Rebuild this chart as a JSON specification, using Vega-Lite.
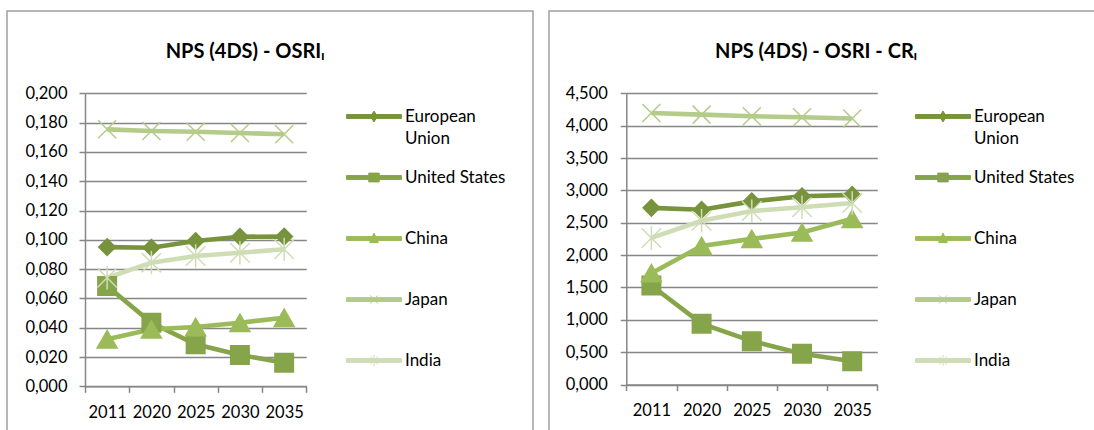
{
  "$schema": "https://vega.github.io/schema/vega-lite/v6.json",
  "padding": {"left": 6, "top": 10, "right": -56, "bottom": -7},
  "background": "white",
  "spacing": 14,
  "config": {
    "font": "Lato",
    "view": {"stroke": "#A0A0A0", "strokeWidth": 1.5},
    "style": {"guide-label": {"lineHeight": 22}},
    "axis": {
      "labelFont": "Lato", "labelFontSize": 16.5, "labelColor": "#000000",
      "domainColor": "#868686", "domainWidth": 1.5,
      "tickColor": "#868686", "tickWidth": 1.5,
      "gridColor": "#868686", "gridWidth": 1.5
    },
    "legend": {
      "orient": "none", "title": null, "padding": 0,
      "clipHeight": 61, "rowPadding": 0, "labelOffset": 3,
      "labelFont": "Lato", "labelFontSize": 17, "labelColor": "#000000", "labelBaseline": "middle",
      "labelLimit": 200, "symbolSize": 3025, "symbolStrokeWidth": 1, "symbolOpacity": 1
    }
  },
  "datasets": {
    "osri": [
      {"year": "2011", "country": "European Union", "value": 0.095},
      {"year": "2020", "country": "European Union", "value": 0.0946},
      {"year": "2025", "country": "European Union", "value": 0.0992},
      {"year": "2030", "country": "European Union", "value": 0.1021},
      {"year": "2035", "country": "European Union", "value": 0.1022},
      {"year": "2011", "country": "United States", "value": 0.0685},
      {"year": "2020", "country": "United States", "value": 0.0434},
      {"year": "2025", "country": "United States", "value": 0.0287},
      {"year": "2030", "country": "United States", "value": 0.0214},
      {"year": "2035", "country": "United States", "value": 0.0161},
      {"year": "2011", "country": "China", "value": 0.0321},
      {"year": "2020", "country": "China", "value": 0.0389},
      {"year": "2025", "country": "China", "value": 0.0405},
      {"year": "2030", "country": "China", "value": 0.0434},
      {"year": "2035", "country": "China", "value": 0.0468},
      {"year": "2011", "country": "Japan", "value": 0.1754},
      {"year": "2020", "country": "Japan", "value": 0.1743},
      {"year": "2025", "country": "Japan", "value": 0.1738},
      {"year": "2030", "country": "Japan", "value": 0.1729},
      {"year": "2035", "country": "Japan", "value": 0.172},
      {"year": "2011", "country": "India", "value": 0.0741},
      {"year": "2020", "country": "India", "value": 0.0844},
      {"year": "2025", "country": "India", "value": 0.0889},
      {"year": "2030", "country": "India", "value": 0.0912},
      {"year": "2035", "country": "India", "value": 0.0935}
    ],
    "osricr": [
      {"year": "2011", "country": "European Union", "value": 2.73},
      {"year": "2020", "country": "European Union", "value": 2.70},
      {"year": "2025", "country": "European Union", "value": 2.83},
      {"year": "2030", "country": "European Union", "value": 2.91},
      {"year": "2035", "country": "European Union", "value": 2.93},
      {"year": "2011", "country": "United States", "value": 1.53},
      {"year": "2020", "country": "United States", "value": 0.94},
      {"year": "2025", "country": "United States", "value": 0.67},
      {"year": "2030", "country": "United States", "value": 0.475},
      {"year": "2035", "country": "United States", "value": 0.36},
      {"year": "2011", "country": "China", "value": 1.72},
      {"year": "2020", "country": "China", "value": 2.14},
      {"year": "2025", "country": "China", "value": 2.25},
      {"year": "2030", "country": "China", "value": 2.35},
      {"year": "2035", "country": "China", "value": 2.56},
      {"year": "2011", "country": "Japan", "value": 4.195},
      {"year": "2020", "country": "Japan", "value": 4.17},
      {"year": "2025", "country": "Japan", "value": 4.145},
      {"year": "2030", "country": "Japan", "value": 4.13},
      {"year": "2035", "country": "Japan", "value": 4.11},
      {"year": "2011", "country": "India", "value": 2.265},
      {"year": "2020", "country": "India", "value": 2.53},
      {"year": "2025", "country": "India", "value": 2.68},
      {"year": "2030", "country": "India", "value": 2.74},
      {"year": "2035", "country": "India", "value": 2.805}
    ]
  },
  "hconcat": [
    {
      "width": 526,
      "height": 425,
      "data": {"name": "osri"},
      "title": {"text": "NPS (4DS) - OSRIᵢ", "anchor": "middle", "frame": "group", "dx": -25, "offset": -67, "baseline": "alphabetic", "font": "Lato", "fontSize": 20, "fontWeight": "bold", "color": "#000000"},
      "encoding": {
        "x": {"field": "year", "type": "ordinal", "bandPosition": 0.5,
          "scale": {"type": "band", "range": [78, 299.3], "paddingInner": 0, "paddingOuter": 0},
          "axis": {"title": null, "labelAngle": 0, "tickBand": "extent", "offset": -49.7, "tickSize": 6, "labelPadding": 11.7, "grid": false, "domain": true}},
        "y": {"field": "value", "type": "quantitative",
          "scale": {"domain": [0, 0.2], "nice": false, "range": [375.3, 82.3]},
          "axis": {"title": null, "values": [0, 0.02, 0.04, 0.06, 0.08, 0.1, 0.12, 0.14, 0.16, 0.18, 0.2], "labelExpr": "replace(format(datum.value, '.3f'), '.', ',')", "offset": -78, "tickSize": 6, "labelPadding": 12, "grid": true, "domain": true}}
      },
      "layer": [
        {"mark": {"type": "line", "strokeWidth": 4.6},
          "encoding": {
            "color": {"field": "country", "type": "nominal",
              "scale": {"domain": ["European Union", "United States", "China", "Japan", "India"], "range": ["#77933C", "#86A44A", "#9BBB59", "#B4CB89", "#CFDDB5"]},
              "legend": {
                "legendX": 339, "legendY": 75,
                "labelExpr": "datum.label === 'European Union' ? ['European', 'Union'] : datum.label"
              }}
          }},
        {"transform": [{"filter": "datum.country === 'European Union'"}],
          "mark": {"type": "point", "shape": "diamond", "size": 272, "filled": true, "fill": "#77933C", "stroke": "#77933C", "strokeWidth": 1.5, "opacity": 1}},
        {"transform": [{"filter": "datum.country === 'United States'"}],
          "mark": {"type": "point", "shape": "square", "size": 342, "filled": true, "fill": "#86A44A", "stroke": "#86A44A", "strokeWidth": 1.5, "opacity": 1}},
        {"transform": [{"filter": "datum.country === 'China'"}],
          "mark": {"type": "point", "shape": "triangle-up", "size": 400, "filled": true, "fill": "#9BBB59", "stroke": "#9BBB59", "strokeWidth": 1.5, "opacity": 1}},
        {"transform": [{"filter": "datum.country === 'Japan'"}],
          "mark": {"type": "point", "shape": "M-1,-1L1,1M-1,1L1,-1", "size": 324, "filled": false, "stroke": "#B4CB89", "strokeWidth": 1.5, "opacity": 1}},
        {"transform": [{"filter": "datum.country === 'India'"}],
          "mark": {"type": "point", "shape": "M-1,-1L1,1M-1,1L1,-1M0,-1.2L0,1.2", "size": 380, "filled": false, "stroke": "#CFDDB5", "strokeWidth": 1.5, "opacity": 1}},
        {"mark": {"type": "point", "filled": true, "opacity": 0},
          "encoding": {
            "shape": {"field": "country", "type": "nominal", "scale": {"domain": ["European Union", "United States", "China", "Japan", "India"], "range": ["M-1,-0.07H1V0.07H-1Z M-0.12,0L0,-0.2L0.12,0L0,0.2Z", "M-1,-0.07H1V0.07H-1Z M-0.19,-0.16H0.19V0.16H-0.19Z", "M-1,-0.07H1V0.07H-1Z M0,-0.2L0.16,0.15H-0.16Z", "M-1,-0.07H1V0.07H-1Z M-0.14,-0.15L0.14,0.15M-0.14,0.15L0.14,-0.15", "M-1,-0.07H1V0.07H-1Z M-0.14,-0.15L0.14,0.15M-0.14,0.15L0.14,-0.15M0,-0.2L0,0.2"]}, "legend": null},
            "fill": {"field": "country", "type": "nominal", "scale": {"domain": ["European Union", "United States", "China", "Japan", "India"], "range": ["#77933C", "#86A44A", "#9BBB59", "#B4CB89", "#CFDDB5"]}, "legend": null}
          }}
      ]
    },
    {
      "width": 600,
      "height": 425,
      "data": {"name": "osricr"},
      "title": {"text": "NPS (4DS) - OSRI - CRᵢ", "anchor": "start", "frame": "group", "dx": 166, "offset": -67, "baseline": "alphabetic", "font": "Lato", "fontSize": 20, "fontWeight": "bold", "color": "#000000"},
      "encoding": {
        "x": {"field": "year", "type": "ordinal", "bandPosition": 0.5,
          "scale": {"type": "band", "range": [77.3, 328.3], "paddingInner": 0, "paddingOuter": 0},
          "axis": {"title": null, "labelAngle": 0, "tickBand": "extent", "offset": -51.5, "tickSize": 6, "labelPadding": 12, "grid": false, "domain": true}},
        "y": {"field": "value", "type": "quantitative",
          "scale": {"domain": [0, 4.5], "nice": false, "range": [373.5, 82.3]},
          "axis": {"title": null, "values": [0, 0.5, 1, 1.5, 2, 2.5, 3, 3.5, 4, 4.5], "labelExpr": "replace(format(datum.value, '.3f'), '.', ',')", "offset": -77.3, "tickSize": 6, "labelPadding": 13, "grid": true, "domain": true}}
      },
      "layer": [
        {"mark": {"type": "line", "strokeWidth": 4.6},
          "encoding": {
            "color": {"field": "country", "type": "nominal",
              "scale": {"domain": ["European Union", "United States", "China", "Japan", "India"], "range": ["#77933C", "#86A44A", "#9BBB59", "#B4CB89", "#CFDDB5"]},
              "legend": {
                "legendX": 366, "legendY": 75,
                "labelExpr": "datum.label === 'European Union' ? ['European', 'Union'] : datum.label"
              }}
          }},
        {"transform": [{"filter": "datum.country === 'European Union'"}],
          "mark": {"type": "point", "shape": "diamond", "size": 272, "filled": true, "fill": "#77933C", "stroke": "#77933C", "strokeWidth": 1.5, "opacity": 1}},
        {"transform": [{"filter": "datum.country === 'United States'"}],
          "mark": {"type": "point", "shape": "square", "size": 342, "filled": true, "fill": "#86A44A", "stroke": "#86A44A", "strokeWidth": 1.5, "opacity": 1}},
        {"transform": [{"filter": "datum.country === 'China'"}],
          "mark": {"type": "point", "shape": "triangle-up", "size": 400, "filled": true, "fill": "#9BBB59", "stroke": "#9BBB59", "strokeWidth": 1.5, "opacity": 1}},
        {"transform": [{"filter": "datum.country === 'Japan'"}],
          "mark": {"type": "point", "shape": "M-1,-1L1,1M-1,1L1,-1", "size": 324, "filled": false, "stroke": "#B4CB89", "strokeWidth": 1.5, "opacity": 1}},
        {"transform": [{"filter": "datum.country === 'India'"}],
          "mark": {"type": "point", "shape": "M-1,-1L1,1M-1,1L1,-1M0,-1.2L0,1.2", "size": 380, "filled": false, "stroke": "#CFDDB5", "strokeWidth": 1.5, "opacity": 1}},
        {"mark": {"type": "point", "filled": true, "opacity": 0},
          "encoding": {
            "shape": {"field": "country", "type": "nominal", "scale": {"domain": ["European Union", "United States", "China", "Japan", "India"], "range": ["M-1,-0.07H1V0.07H-1Z M-0.12,0L0,-0.2L0.12,0L0,0.2Z", "M-1,-0.07H1V0.07H-1Z M-0.19,-0.16H0.19V0.16H-0.19Z", "M-1,-0.07H1V0.07H-1Z M0,-0.2L0.16,0.15H-0.16Z", "M-1,-0.07H1V0.07H-1Z M-0.14,-0.15L0.14,0.15M-0.14,0.15L0.14,-0.15", "M-1,-0.07H1V0.07H-1Z M-0.14,-0.15L0.14,0.15M-0.14,0.15L0.14,-0.15M0,-0.2L0,0.2"]}, "legend": null},
            "fill": {"field": "country", "type": "nominal", "scale": {"domain": ["European Union", "United States", "China", "Japan", "India"], "range": ["#77933C", "#86A44A", "#9BBB59", "#B4CB89", "#CFDDB5"]}, "legend": null}
          }}
      ]
    }
  ],
  "resolve": {
    "scale": {"color": "independent", "fill": "independent", "shape": "independent", "x": "independent", "y": "independent"},
    "legend": {"color": "independent"}
  }
}
